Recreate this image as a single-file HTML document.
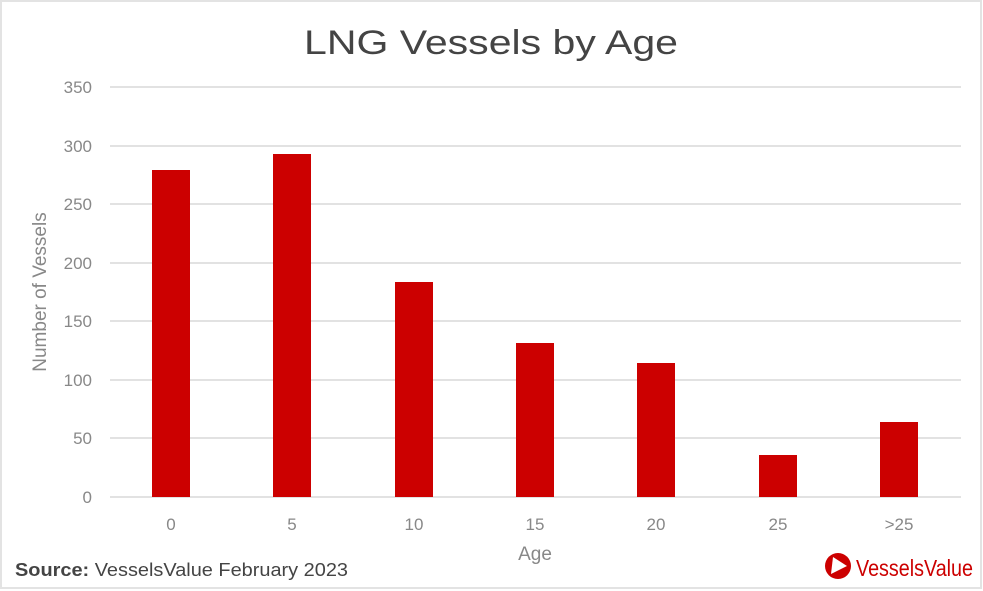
<!DOCTYPE html>
<html><head><meta charset="utf-8"><style>
html,body{margin:0;padding:0;background:#fff;}
svg{display:block;font-family:"Liberation Sans",sans-serif;}
</style></head><body>
<svg width="983" height="591" viewBox="0 0 983 591" xmlns="http://www.w3.org/2000/svg">
<rect x="0" y="0" width="983" height="591" fill="#fff"/>
<rect x="1" y="1" width="980" height="587" fill="none" stroke="#e3e3e3" stroke-width="2"/>
<text x="304" y="54" font-size="34" fill="#444" textLength="374" lengthAdjust="spacingAndGlyphs">LNG Vessels by Age</text>
<g stroke="#d9d9d9" stroke-width="1.5">
<line x1="110" x2="961" y1="87" y2="87"/>
<line x1="110" x2="961" y1="146" y2="146"/>
<line x1="110" x2="961" y1="204" y2="204"/>
<line x1="110" x2="961" y1="263" y2="263"/>
<line x1="110" x2="961" y1="321" y2="321"/>
<line x1="110" x2="961" y1="380" y2="380"/>
<line x1="110" x2="961" y1="438" y2="438"/>
<line x1="110" x2="961" y1="497" y2="497"/>
</g>
<g fill="#888" font-size="17" text-anchor="end">
<text x="92" y="93">350</text>
<text x="92" y="152">300</text>
<text x="92" y="210">250</text>
<text x="92" y="269">200</text>
<text x="92" y="327">150</text>
<text x="92" y="386">100</text>
<text x="92" y="444">50</text>
<text x="92" y="503">0</text>
</g>
<g fill="#cc0000">
<rect x="152" y="170" width="38" height="327"/>
<rect x="273" y="154" width="38" height="343"/>
<rect x="395" y="282" width="38" height="215"/>
<rect x="516" y="343" width="38" height="154"/>
<rect x="637" y="363" width="38" height="134"/>
<rect x="759" y="455" width="38" height="42"/>
<rect x="880" y="422" width="38" height="75"/>
</g>
<g fill="#888" font-size="17" text-anchor="middle">
<text x="171" y="530">0</text>
<text x="292" y="530">5</text>
<text x="414" y="530">10</text>
<text x="535" y="530">15</text>
<text x="656" y="530">20</text>
<text x="778" y="530">25</text>
<text x="899" y="530">&gt;25</text>
</g>
<text x="535" y="560" text-anchor="middle" font-size="19" fill="#888">Age</text>
<text transform="translate(46,292) rotate(-90)" text-anchor="middle" font-size="19" fill="#888">Number of Vessels</text>
<text x="15" y="576" font-size="18" fill="#444" textLength="333" lengthAdjust="spacingAndGlyphs"><tspan font-weight="bold">Source:</tspan> VesselsValue February 2023</text>
<circle cx="838" cy="566" r="13" fill="#cc0000"/>
<polygon points="833,557 847,566 831,574" fill="#fff"/>
<text x="856" y="576" font-size="23" fill="#cc0000" textLength="117" lengthAdjust="spacingAndGlyphs">VesselsValue</text>
</svg>
</body></html>
